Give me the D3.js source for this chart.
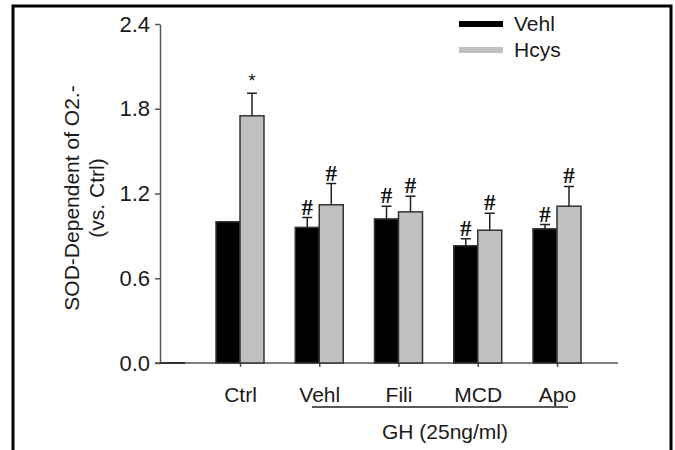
<!DOCTYPE html>
<html>
<head>
<meta charset="utf-8">
<script src="https://cdn.jsdelivr.net/npm/d3@7"></script>
<style>
  body { margin: 0; background: #fff; }
  svg { display: block; font-family: "Liberation Sans", Arial, sans-serif; }
</style>
</head>
<body>
<div id="chart"></div>
<script>
// data
const categories = ["Ctrl", "Vehl", "Fili", "MCD", "Apo"];
const seriesNames = ["Vehl", "Hcys"];
const vehlValues = [1.0, 0.96, 1.02, 0.83, 0.95];
const vehlErrors = [0, 0.07, 0.09, 0.05, 0.03];
const hcysValues = [1.75, 1.12, 1.07, 0.94, 1.11];
const hcysErrors = [0.16, 0.15, 0.11, 0.12, 0.14];
const vehlMarks = ["", "#", "#", "#", "#"];
const hcysMarks = ["*", "#", "#", "#", "#"];
const yTicks = [0, 0.6, 1.2, 1.8, 2.4];
const groupLabel = "GH (25ng/ml)";

const width = 675, height = 450;
const colors = ["#000000", "#c0c0c0"];
const barW = 24;
const fs = 21;

const svg = d3.select("#chart").append("svg")
    .attr("width", width)
    .attr("height", height);

// outer frame (no bottom edge in the figure)
svg.append("path")
    .attr("d", "M13,470 L13,6 L671,6 L671,470")
    .attr("fill", "none")
    .attr("stroke", "#000")
    .attr("stroke-width", 3);

const y = d3.scaleLinear().domain([0, 2.4]).range([363, 24]);
const x = d3.scalePoint().domain(categories).range([240, 557]);

// y axis
const yAxis = svg.append("g")
    .attr("transform", "translate(160,0)")
    .call(d3.axisLeft(y).tickValues(yTicks).tickFormat(d3.format(".1f")).tickSize(5).tickSizeOuter(0).tickPadding(5));
yAxis.select(".domain").attr("stroke", "#555").attr("stroke-width", 1.5);
yAxis.selectAll(".tick line").attr("stroke", "#555").attr("stroke-width", 1.5);
yAxis.selectAll(".tick text").attr("font-size", fs + 1).attr("fill", "#1a1a1a")
    .attr("font-family", "Liberation Sans, Arial, sans-serif");

// baseline + tiny dark stub near origin
svg.append("line").attr("x1", 155).attr("x2", 618).attr("y1", y(0)).attr("y2", y(0))
    .attr("stroke", "#555").attr("stroke-width", 1.5);
svg.append("line").attr("x1", 160).attr("x2", 185).attr("y1", y(0)).attr("y2", y(0))
    .attr("stroke", "#333").attr("stroke-width", 2);

// x axis ticks and labels
const xAxis = svg.append("g")
    .attr("transform", `translate(0,${y(0)})`)
    .call(d3.axisBottom(x).tickSize(4).tickSizeOuter(0).tickPadding(20));
xAxis.select(".domain").remove();
xAxis.selectAll(".tick line").attr("stroke", "#555").attr("stroke-width", 1.5);
xAxis.selectAll(".tick text").attr("font-size", fs).attr("fill", "#1a1a1a")
    .attr("font-family", "Liberation Sans, Arial, sans-serif");

// bars
const series = [
    { vals: vehlValues, errs: vehlErrors, marks: vehlMarks, off: -barW },
    { vals: hcysValues, errs: hcysErrors, marks: hcysMarks, off: 0 }
];
series.forEach((s, si) => {
    const g = svg.append("g");
    const rows = categories.map((c, i) => ({ c, v: s.vals[i], e: s.errs[i], m: s.marks[i] }));
    g.selectAll("rect").data(rows).enter().append("rect")
        .attr("x", d => x(d.c) + s.off)
        .attr("y", d => y(d.v))
        .attr("width", barW)
        .attr("height", d => y(0) - y(d.v))
        .attr("fill", colors[si])
        .attr("stroke", "#333")
        .attr("stroke-width", 1.5);
    const eb = rows.filter(d => d.e > 0);
    g.selectAll(".err").data(eb).enter().append("path")
        .attr("class", "err")
        .attr("d", d => {
            const cx = x(d.c) + s.off + barW / 2;
            return `M${cx},${y(d.v)} V${y(d.v + d.e)} M${cx - 5},${y(d.v + d.e)} H${cx + 5}`;
        })
        .attr("stroke", "#222")
        .attr("stroke-width", 1.5)
        .attr("fill", "none");
    g.selectAll(".mark").data(rows.filter(d => d.m)).enter().append("text")
        .attr("x", d => x(d.c) + s.off + barW / 2)
        .attr("y", d => y(d.v + d.e) - (d.m === "*" ? 6 : 3))
        .attr("text-anchor", "middle")
        .attr("font-size", d => d.m === "*" ? 18 : 23)
        .attr("font-family", d => d.m === "*" ? null : "Liberation Serif, Times New Roman, serif")
        .attr("font-weight", d => d.m === "*" ? null : "bold")
        .attr("fill", "#111")
        .text(d => d.m);
});

// y axis title
const title = svg.append("g").attr("transform", "translate(0,198) rotate(-90)");
title.append("text").attr("x", 0).attr("y", 79).attr("text-anchor", "middle")
    .attr("font-size", fs).attr("fill", "#1a1a1a").text("SOD-Dependent of O2.-");
title.append("text").attr("x", 0).attr("y", 104).attr("text-anchor", "middle")
    .attr("font-size", fs).attr("fill", "#1a1a1a").text("(vs. Ctrl)");

// group bracket
svg.append("line").attr("x1", 312).attr("x2", 568).attr("y1", 407).attr("y2", 407)
    .attr("stroke", "#222").attr("stroke-width", 1.5);
svg.append("text").attr("x", 445).attr("y", 439).attr("text-anchor", "middle")
    .attr("font-size", fs).attr("fill", "#1a1a1a").text(groupLabel);

// legend
const leg = svg.append("g");
seriesNames.forEach((n, i) => {
    leg.append("rect").attr("x", 459).attr("y", 21 + i * 26).attr("width", 44).attr("height", 6)
        .attr("fill", colors[i]);
    leg.append("text").attr("x", 514).attr("y", 31 + i * 26)
        .attr("font-size", fs).attr("fill", "#1a1a1a").text(n);
});
</script>
</body>
</html>
